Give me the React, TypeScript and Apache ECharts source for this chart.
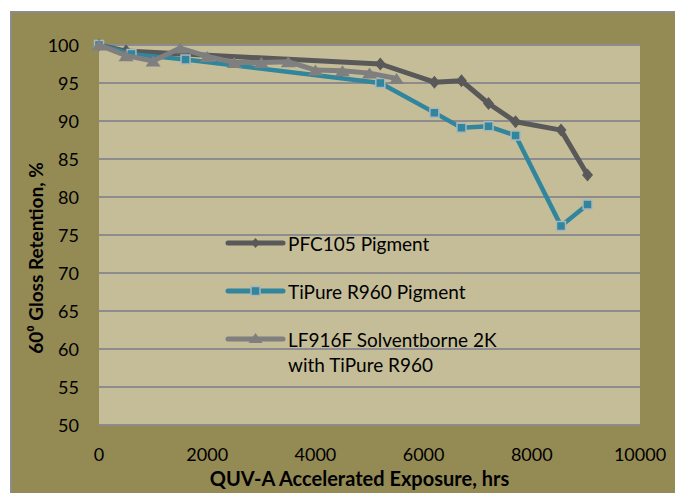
import React, { useEffect, useRef } from "react";
import * as echarts from "echarts";

const xTicks = [0, 2000, 4000, 6000, 8000, 10000];
const yTicks = [50, 55, 60, 65, 70, 75, 80, 85, 90, 95, 100];

const seriesNames = [
  "PFC105 Pigment",
  "TiPure R960 Pigment",
  "LF916F Solventborne 2K\nwith TiPure R960",
];

const pfcHours = [0, 500, 5200, 6200, 6700, 7200, 7700, 8540, 9030];
const pfcGloss = [100, 99.2, 97.5, 95.1, 95.3, 92.3, 89.9, 88.8, 82.9];

const tiHours = [0, 600, 1600, 5200, 6200, 6700, 7200, 7700, 8540, 9030];
const tiGloss = [100, 98.8, 98.1, 95.0, 91.1, 89.1, 89.3, 88.1, 76.2, 79.0];

const lfHours = [0, 500, 1000, 1500, 2000, 2500, 3000, 3500, 4000, 4500, 5000, 5500];
const lfGloss = [100, 98.6, 97.9, 99.6, 98.5, 97.7, 97.7, 97.8, 96.7, 96.6, 96.3, 95.6];

const C_PFC = "#595959";
const C_TI = "#31859C";
const C_LF = "#7F7F7F";
const FONT = "Lato";

export default function App() {
  const ref = useRef<HTMLDivElement>(null);
  useEffect(() => {
    if (!ref.current) return;
    const chart = echarts.init(ref.current, undefined, { renderer: "svg" });
    const zip = (xs: number[], ys: number[]) => xs.map((x, i) => [x, ys[i]]);

    const legendRows = [
      { y: 243, color: C_PFC, shape: "diamond" },
      { y: 291, color: C_TI, shape: "rect" },
      { y: 339, color: C_LF, shape: "triangle" },
    ];
    const lx0 = 228, lx1 = 283, lmx = 255.5, tx = 288;
    const legendGraphics: any[] = [];
    legendRows.forEach((r, i) => {
      legendGraphics.push({
        type: "line",
        shape: { x1: lx0, y1: r.y, x2: lx1, y2: r.y },
        style: { stroke: r.color, lineWidth: 5, lineCap: "round" },
        z: 100,
      });
      if (r.shape === "diamond") {
        legendGraphics.push({
          type: "polygon",
          shape: { points: [[lmx, r.y - 5], [lmx + 4.5, r.y], [lmx, r.y + 5], [lmx - 4.5, r.y]] },
          style: { fill: r.color },
          z: 101,
        });
      } else if (r.shape === "rect") {
        legendGraphics.push({
          type: "rect",
          shape: { x: lmx - 4.5, y: r.y - 4.5, width: 9, height: 9 },
          style: { fill: r.color, stroke: "#A9B7BC", lineWidth: 1.5 },
          z: 101,
        });
      } else {
        legendGraphics.push({
          type: "polygon",
          shape: { points: [[lmx, r.y - 6], [lmx + 7, r.y + 4], [lmx - 7, r.y + 4]] },
          style: { fill: r.color },
          z: 101,
        });
      }
      legendGraphics.push({
        type: "text",
        x: tx,
        y: r.y - 12.5,
        style: {
          text: seriesNames[i],
          font: `19px ${FONT}`,
          fill: "#000",
          lineHeight: 25,
          textAlign: "left",
          textVerticalAlign: "top",
        },
        z: 101,
      });
    });

    chart.setOption({
      animation: false,
      backgroundColor: "transparent",
      textStyle: { fontFamily: FONT },
      grid: {
        left: 99,
        top: 45,
        right: 35,
        bottom: 61,
        show: true,
        backgroundColor: "#C4BD97",
        borderWidth: 0,
      },
      xAxis: {
        type: "value",
        min: xTicks[0],
        max: xTicks[xTicks.length - 1],
        interval: 2000,
        name: "QUV-A Accelerated Exposure, hrs",
        nameLocation: "middle",
        nameGap: 43,
        nameTextStyle: {
          fontFamily: FONT,
          fontSize: 20,
          fontWeight: "bold",
          color: "#000",
          padding: [0, 20, 0, 0],
        },
        axisLine: { show: false },
        axisTick: { show: false },
        splitLine: { show: false },
        axisLabel: {
          fontFamily: FONT,
          fontSize: 18,
          color: "#000",
          margin: 20,
          formatter: (v: number) => String(v),
        },
      },
      yAxis: {
        type: "value",
        min: yTicks[0],
        max: yTicks[yTicks.length - 1],
        interval: 5,
        axisLine: { show: false },
        axisTick: { show: false },
        splitLine: { show: true, lineStyle: { color: "#8C8C8C", width: 2 } },
        axisLabel: { fontFamily: FONT, fontSize: 18, color: "#000", margin: 20 },
      },
      graphic: [
        {
          type: "text",
          x: 35,
          y: 258,
          rotation: Math.PI / 2,
          style: {
            text: "60⁰ Gloss Retention, %",
            font: `bold 19px ${FONT}`,
            fill: "#000",
            textAlign: "center",
            textVerticalAlign: "middle",
          },
        },
        ...legendGraphics,
      ],
      series: [
        {
          name: seriesNames[0],
          type: "line",
          data: zip(pfcHours, pfcGloss),
          symbol: "diamond",
          symbolSize: [11, 13],
          lineStyle: { color: C_PFC, width: 5 },
          itemStyle: { color: C_PFC },
          z: 2,
        },
        {
          name: seriesNames[1],
          type: "line",
          data: zip(tiHours, tiGloss),
          symbol: "rect",
          symbolSize: 9,
          lineStyle: { color: C_TI, width: 4.5 },
          itemStyle: { color: C_TI, borderColor: "#A9B7BC", borderWidth: 1.5 },
          z: 3,
        },
        {
          name: seriesNames[2],
          type: "line",
          data: zip(lfHours, lfGloss),
          symbol: "triangle",
          symbolSize: [15, 11],
          lineStyle: { color: C_LF, width: 5 },
          itemStyle: { color: C_LF },
          z: 4,
        },
      ],
    });
    return () => chart.dispose();
  }, []);

  return (
    <div style={{ position: "absolute", left: 0, top: 0, width: 675, height: 493, background: "#fff", overflow: "hidden" }}>
      <div
        style={{
          position: "absolute",
          left: 10,
          top: 11,
          right: 0,
          bottom: 0,
          background: "#948A54",
          borderTop: "2px solid #8C8C8C",
          borderLeft: "2px solid #8C8C8C",
        }}
      />
      <div ref={ref} style={{ position: "absolute", left: 0, top: 0, width: 675, height: 493 }} />
    </div>
  );
}
